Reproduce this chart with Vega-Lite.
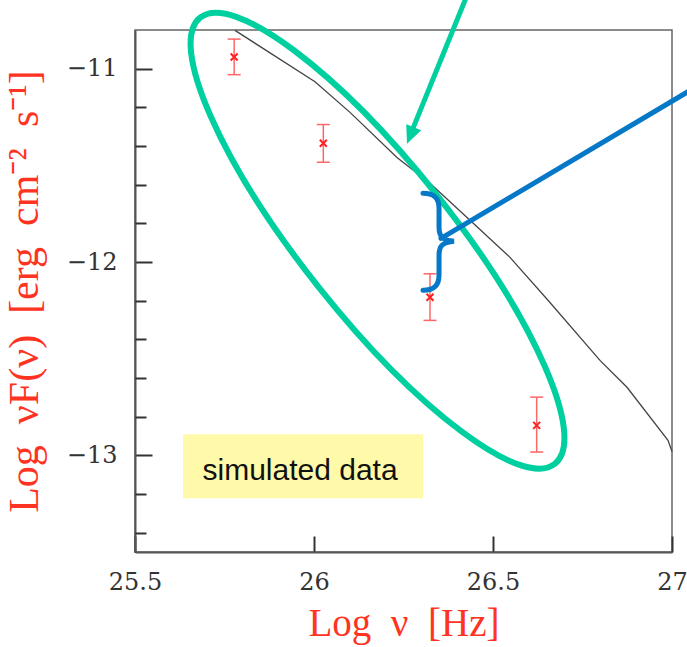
{
  "$schema": "https://vega.github.io/schema/vega-lite/v6.json",
  "width": 537,
  "height": 522,
  "autosize": {"type": "none"},
  "padding": {"left": 135, "top": 30, "right": 15, "bottom": 95},
  "background": "white",
  "config": {
    "view": {"stroke": "#666666", "strokeWidth": 1.5},
    "axis": {"grid": false}
  },
  "resolve": {"axis": {"y": "independent"}},
  "datasets": {
    "box": [{"x": 25.634, "x2": 26.3045, "y": -12.891, "y2": -13.222}],
    "model": [
      {"x": 25.7793, "y": -10.802},
      {"x": 26.0028, "y": -11.068},
      {"x": 26.1006, "y": -11.226},
      {"x": 26.2318, "y": -11.459},
      {"x": 26.324, "y": -11.593},
      {"x": 26.4358, "y": -11.784},
      {"x": 26.5475, "y": -11.976},
      {"x": 26.6536, "y": -12.198},
      {"x": 26.7989, "y": -12.509},
      {"x": 26.8743, "y": -12.648},
      {"x": 26.9888, "y": -12.922},
      {"x": 27.0, "y": -12.98}
    ],
    "obs": [
      {"x": 25.777, "y": -10.94, "lo": -11.031, "hi": -10.847},
      {"x": 26.026, "y": -11.386, "lo": -11.484, "hi": -11.289},
      {"x": 26.324, "y": -12.182, "lo": -12.302, "hi": -12.061},
      {"x": 26.622, "y": -12.845, "lo": -12.983, "hi": -12.699}
    ],
    "label": [{"x": 25.961, "y": -13.129, "text": "simulated data"}],
    "ellipse": [{"x": 26.1774, "y": -11.89}],
    "arrow": [{"x": 26.4274, "y": -10.621, "x2": 26.2765, "y2": -11.309}],
    "arrowhead": [{"x": 26.2598, "y": -11.389}],
    "brace": [{"x": 26.352, "y": -11.893}],
    "pointer": [{"x": 26.3547, "y": -11.878, "x2": 27.0782, "y2": -11.082}]
  },
  "layer": [
    {
      "data": {"name": "box"},
      "mark": {"type": "rect", "color": "#fffaaa"},
      "encoding": {
        "x": {
          "field": "x", "type": "quantitative",
          "scale": {"domain": [25.5, 27], "nice": false, "zero": false},
          "axis": {
            "title": "Log\u2002ν\u2002[Hz]",
            "values": [25.5, 26, 26.5, 27],
            "format": "~g",
            "tickSize": -16, "tickColor": "#333333", "tickWidth": 2,
            "domainColor": "#555555", "domainWidth": 2,
            "labelFont": "DejaVu Serif", "labelFontSize": 24, "labelColor": "#333333",
            "labelPadding": 34, "labelFlush": false, "labelOverlap": false,
            "titleFont": "Liberation Serif", "titleFontSize": 39, "titleFontWeight": "normal",
            "titleColor": "#ff3322", "titlePadding": 10
          }
        },
        "x2": {"field": "x2"},
        "y": {
          "field": "y", "type": "quantitative",
          "scale": {"domain": [-13.5, -10.8], "nice": false, "zero": false},
          "axis": {
            "orient": "left",
            "title": "Log\u2002νF(ν)\u2002[erg\u2002cm⁻²\u2002s⁻¹]",
            "values": [-13, -12, -11],
            "format": "d",
            "tickSize": -17, "tickColor": "#333333", "tickWidth": 2,
            "domainColor": "#555555", "domainWidth": 2,
            "labelFont": "DejaVu Serif", "labelFontSize": 24, "labelColor": "#333333",
            "labelPadding": 35, "labelBaseline": "middle", "labelOverlap": false, "labelFlush": false,
            "titleFont": "Liberation Serif", "titleFontSize": 42, "titleFontWeight": "normal",
            "titleColor": "#ff3322", "titlePadding": 20
          }
        },
        "y2": {"field": "y2"}
      }
    },
    {
      "data": {"name": "model"},
      "mark": {"type": "line", "color": "#444444", "strokeWidth": 1.3},
      "encoding": {
        "x": {"field": "x", "type": "quantitative"},
        "y": {
          "field": "y", "type": "quantitative",
          "axis": {
            "orient": "left",
            "title": null,
            "values": [-13.4, -13.2, -12.8, -12.6, -12.4, -12.2, -11.8, -11.6, -11.4, -11.2],
            "labels": false,
            "domain": false,
            "tickSize": -11, "tickColor": "#333333", "tickWidth": 2
          }
        }
      }
    },
    {
      "data": {"name": "obs"},
      "mark": {"type": "rule", "color": "#ff6666", "strokeWidth": 1.5},
      "encoding": {
        "x": {"field": "x", "type": "quantitative"},
        "y": {"field": "lo", "type": "quantitative", "axis": null},
        "y2": {"field": "hi"}
      }
    },
    {
      "data": {"name": "obs"},
      "mark": {"type": "point", "shape": "stroke", "size": 169, "filled": false, "color": "#ff6666", "strokeWidth": 1.5, "opacity": 1},
      "encoding": {
        "x": {"field": "x", "type": "quantitative"},
        "y": {"field": "lo", "type": "quantitative", "axis": null}
      }
    },
    {
      "data": {"name": "obs"},
      "mark": {"type": "point", "shape": "stroke", "size": 169, "filled": false, "color": "#ff6666", "strokeWidth": 1.5, "opacity": 1},
      "encoding": {
        "x": {"field": "x", "type": "quantitative"},
        "y": {"field": "hi", "type": "quantitative", "axis": null}
      }
    },
    {
      "data": {"name": "obs"},
      "mark": {"type": "point", "shape": "M -1 -1 L 1 1 M -1 1 L 1 -1", "size": 49, "filled": false, "color": "#ff2020", "strokeWidth": 2, "opacity": 1},
      "encoding": {
        "x": {"field": "x", "type": "quantitative"},
        "y": {"field": "y", "type": "quantitative", "axis": null}
      }
    },
    {
      "data": {"name": "label"},
      "mark": {"type": "text", "font": "Liberation Sans", "fontSize": 30, "align": "center", "baseline": "alphabetic", "color": "#111111"},
      "encoding": {
        "x": {"field": "x", "type": "quantitative"},
        "y": {"field": "y", "type": "quantitative", "axis": null},
        "text": {"field": "text"}
      }
    },
    {
      "data": {"name": "ellipse"},
      "mark": {"type": "point", "shape": "M -1 0 C -1 -0.1453 -0.5523 -0.263 0 -0.263 C 0.5523 -0.263 1 -0.1453 1 0 C 1 0.1453 0.5523 0.263 0 0.263 C -0.5523 0.263 -1 0.1453 -1 0 Z", "size": 324900, "angle": 51.5, "filled": false, "color": "#00cf9f", "strokeWidth": 6, "opacity": 1},
      "encoding": {
        "x": {"field": "x", "type": "quantitative"},
        "y": {"field": "y", "type": "quantitative", "axis": null}
      }
    },
    {
      "data": {"name": "arrow"},
      "mark": {"type": "rule", "color": "#00cf9f", "strokeWidth": 5, "strokeCap": "round"},
      "encoding": {
        "x": {"field": "x", "type": "quantitative"},
        "y": {"field": "y", "type": "quantitative", "axis": null},
        "x2": {"field": "x2"},
        "y2": {"field": "y2"}
      }
    },
    {
      "data": {"name": "arrowhead"},
      "mark": {"type": "point", "shape": "M 0 0 L 0.9 2 L -0.9 2 Z", "size": 324, "angle": 202, "filled": true, "color": "#00cf9f", "opacity": 1},
      "encoding": {
        "x": {"field": "x", "type": "quantitative"},
        "y": {"field": "y", "type": "quantitative", "axis": null}
      }
    },
    {
      "data": {"name": "brace"},
      "mark": {"type": "point", "shape": "M -0.347 -0.98 C -0.143 -0.98 -0.02 -0.898 -0.02 -0.673 L -0.02 -0.286 C -0.02 -0.102 0.041 -0.02 0.286 0 C 0.041 0.02 -0.02 0.102 -0.02 0.286 L -0.02 0.694 C -0.02 0.918 -0.143 1 -0.347 1", "size": 9604, "filled": false, "color": "#0678c8", "strokeWidth": 5, "strokeCap": "round", "opacity": 1},
      "encoding": {
        "x": {"field": "x", "type": "quantitative"},
        "y": {"field": "y", "type": "quantitative", "axis": null}
      }
    },
    {
      "data": {"name": "pointer"},
      "mark": {"type": "rule", "color": "#0678c8", "strokeWidth": 5, "strokeCap": "round"},
      "encoding": {
        "x": {"field": "x", "type": "quantitative"},
        "y": {"field": "y", "type": "quantitative", "axis": null},
        "x2": {"field": "x2"},
        "y2": {"field": "y2"}
      }
    }
  ]
}
